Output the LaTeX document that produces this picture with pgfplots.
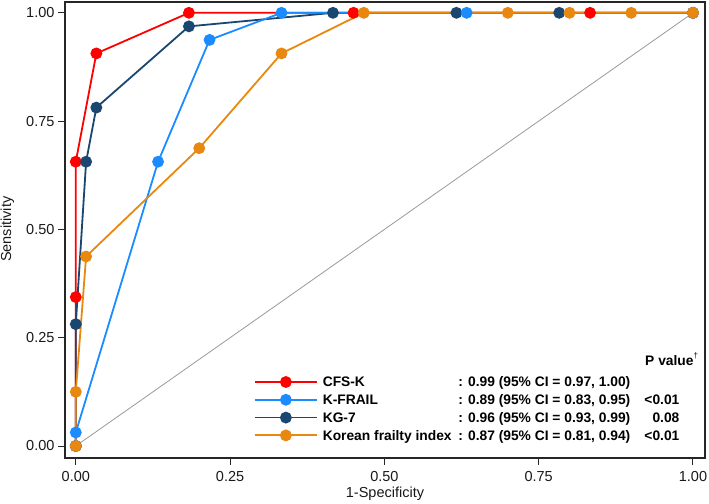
\documentclass[border=0pt]{standalone}
\usepackage{fontspec}
\setmainfont{Liberation Sans}
\usepackage{pgfplots}
\pgfplotsset{compat=1.18}
\definecolor{cfsred}{RGB}{255,0,0}
\definecolor{kfblue}{RGB}{26,140,255}
\definecolor{kgnavy}{RGB}{26,71,111}
\definecolor{kforange}{RGB}{232,136,16}
\pgfplotsset{
  stylecfs/.style={color=cfsred, line width=1.8pt, mark=*, mark size=5pt, mark options={solid}},
  stylekfrail/.style={color=kfblue, line width=1.8pt, mark=*, mark size=5pt, mark options={solid}},
  stylekgseven/.style={color=kgnavy, line width=1.8pt, mark=*, mark size=5pt, mark options={solid}},
  stylekfi/.style={color=kforange, line width=1.8pt, mark=*, mark size=5pt, mark options={solid}},
}
\begin{document}
\begin{tikzpicture}
\useasboundingbox (0,0) rectangle (709pt,503pt);
\begin{axis}[
  at={(65pt,45pt)}, anchor=south west,
  scale only axis, width=640pt, height=456pt,
  xmin=-0.0175, xmax=1.0195, ymin=-0.0277, ymax=1.025,
  xtick={0,0.25,0.5,0.75,1}, ytick={0,0.25,0.5,0.75,1},
  xticklabels={0.00,0.25,0.50,0.75,1.00},
  yticklabels={0.00,0.25,0.50,0.75,1.00},
  /pgf/number format/assume math mode=true,
  tick label style={font=\fontsize{14.5}{17}\selectfont, text=black!90},
  xticklabel style={yshift=-3pt},
  tick align=outside, xtick pos=bottom, ytick pos=left,
  major tick length=7pt,
  every tick/.style={black!85, line width=1pt},
  axis line style={line width=1.3pt, black!85},
  xlabel={1-Specificity}, ylabel={Sensitivity},
  label style={font=\fontsize{14.5}{17}\selectfont, text=black!90},
  xlabel style={at={(axis description cs:0.5,-0.0877)}, anchor=base},
  ylabel style={at={(axis description cs:-0.0902,0.5015)}, anchor=center},
  legend cell align=left,
  legend style={at={(axis description cs:0.2953,0.1862)}, anchor=north west,
    draw=none, fill=none, inner sep=0pt, outer sep=0pt, row sep=0pt,
    font=\fontsize{13.8}{15}\selectfont\bfseries,
    nodes={inner xsep=5pt, inner ysep=0pt, text height=13.9pt, text depth=3.9pt}},
  legend image code/.code={\draw[mark repeat=2,mark phase=2] plot coordinates {(0pt,0pt)(31pt,0pt)(62pt,0pt)};},
]
\addplot[color=black!40, line width=0.8pt, forget plot] coordinates {(0,0)(1,1)};
\addplot[stylecfs, forget plot] coordinates {(0,0)(0,0.34375)(0,0.65625)(0.0333,0.90625)(0.1833,1)(0.45,1)(0.8333,1)(1,1)};
\addplot[stylekgseven, forget plot] coordinates {(0,0)(0,0.28125)(0.0167,0.65625)(0.0333,0.78125)(0.1833,0.96875)(0.4167,1)(0.6167,1)(0.7833,1)(1,1)};
\addplot[stylekfrail, forget plot] coordinates {(0,0)(0,0.03125)(0.1333,0.65625)(0.2167,0.9375)(0.3333,1)(0.6333,1)(1,1)};
\addplot[stylekfi, forget plot] coordinates {(0,0)(0,0.125)(0.0167,0.4375)(0.2,0.6875)(0.3333,0.90625)(0.4667,1)(0.7,1)(0.8,1)(0.9,1)(1,1)};
\addlegendimage{stylecfs}
\addlegendentry{\makebox[135.6pt][l]{CFS-K}\makebox[221pt][l]{: 0.99 (95\% CI = 0.97, 1.00)}}
\addlegendimage{stylekfrail}
\addlegendentry{\makebox[135.6pt][l]{K-FRAIL}\makebox[221pt][l]{: 0.89 (95\% CI = 0.83, 0.95)}\llap{<0.01}}
\addlegendimage{stylekgseven}
\addlegendentry{\makebox[135.6pt][l]{KG-7}\makebox[221pt][l]{: 0.96 (95\% CI = 0.93, 0.99)}\llap{0.08}}
\addlegendimage{stylekfi}
\addlegendentry{\makebox[135.6pt][l]{Korean frailty index}\makebox[221pt][l]{: 0.87 (95\% CI = 0.81, 0.94)}\llap{<0.01}}
\node[anchor=base west, font=\fontsize{13.8}{15}\selectfont\bfseries] at (axis description cs:0.9011,0.2039) {P value\raisebox{0.45em}{\fontsize{8}{8}\selectfont\mdseries †}};
\end{axis}
\end{tikzpicture}
\end{document}
